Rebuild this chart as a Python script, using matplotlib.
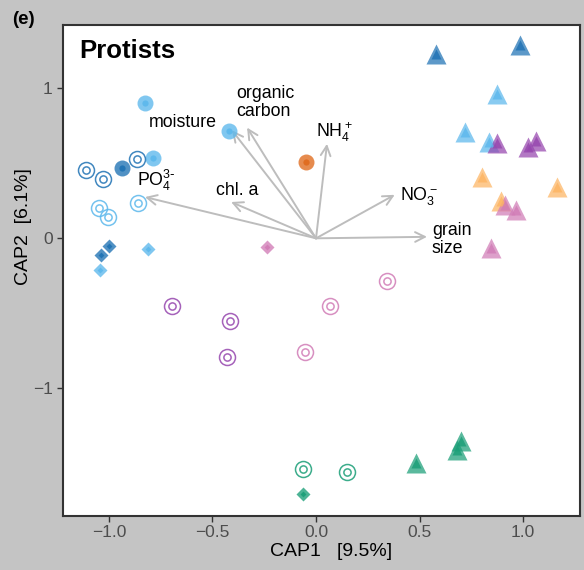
import matplotlib
matplotlib.use("Agg")
import matplotlib.pyplot as plt
import numpy as np

plt.rcParams['font.family'] = ['Liberation Sans', 'DejaVu Sans']
plt.rcParams['mathtext.default'] = 'regular'

# ---- data ----
palette = {
    'darkblue': '#1f72b4',
    'lightblue': '#5cb8ec',
    'orange': '#e06a1c',
    'lightorange': '#fdb462',
    'purple': '#9646ae',
    'pink': '#d17cb6',
    'green': '#1a9e77',
}

# filled circles
circ_x = [-0.826, -0.787, -0.420, -0.937, -0.048]
circ_y = [0.902, 0.535, 0.715, 0.469, 0.509]
circ_c = ['lightblue', 'lightblue', 'lightblue', 'darkblue', 'orange']

# double (ring) circles
ring_x = [-1.111, -1.029, -0.865, -1.048, -1.005, -0.860,
          -0.696, -0.415, -0.430, 0.068, 0.343, -0.053, -0.063, 0.150]
ring_y = [0.455, 0.395, 0.529, 0.202, 0.142, 0.235,
          -0.451, -0.551, -0.791, -0.451, -0.285, -0.758, -1.538, -1.558]
ring_c = ['darkblue', 'darkblue', 'darkblue', 'lightblue', 'lightblue', 'lightblue',
          'purple', 'purple', 'purple', 'pink', 'pink', 'pink', 'green', 'green']

# diamonds
diam_x = [-1.000, -1.039, -1.043, -0.812, -0.237, -0.063]
diam_y = [-0.051, -0.111, -0.211, -0.071, -0.058, -1.705]
diam_c = ['darkblue', 'darkblue', 'lightblue', 'lightblue', 'pink', 'green']

# triangles
tri_x = [0.580, 0.986, 0.874, 0.720, 0.836, 0.874, 1.024, 1.063,
         0.802, 1.164, 0.894, 0.913, 0.966, 0.845, 0.483, 0.681, 0.700]
tri_y = [1.229, 1.289, 0.962, 0.709, 0.642, 0.635, 0.609, 0.649,
         0.409, 0.342, 0.249, 0.222, 0.189, -0.065, -1.498, -1.411, -1.351]
tri_c = ['darkblue', 'darkblue', 'lightblue', 'lightblue', 'lightblue',
         'purple', 'purple', 'purple', 'lightorange', 'lightorange', 'lightorange',
         'pink', 'pink', 'pink', 'green', 'green', 'green']

# environmental vectors
vec_names = ['grain size', 'NO3', 'NH4', 'organic carbon', 'moisture', 'chl. a', 'PO4']
vec_x = [0.536, 0.380, 0.053, -0.333, -0.406, -0.410, -0.826]
vec_y = [0.010, 0.290, 0.630, 0.738, 0.720, 0.242, 0.275]

vec_labels = ['grain\nsize', r'NO$_3^-$', r'NH$_4^+$', 'organic\ncarbon', 'moisture',
              'chl. a', r'PO$_4^{3\text{-}}$']
lab_x = [0.560, 0.495, 0.090, -0.385, -0.643, -0.380, -0.770]
lab_y = [-0.010, 0.280, 0.705, 0.905, 0.772, 0.320, 0.385]
lab_ha = ['left', 'center', 'center', 'left', 'center', 'center', 'center']

xticks = [-1.0, -0.5, 0.0, 0.5, 1.0]
yticks = [-1, 0, 1]

# ---- figure ----
fig = plt.figure(figsize=(5.84, 5.70), dpi=100, facecolor='#c4c4c4')
ax = fig.add_axes([63/584, 1-516/570, (580-63)/584, (516-25)/570])
ax.set_facecolor('white')
ax.set_xlim(-1.222, 1.275)
ax.set_ylim(-1.851, 1.422)

grey = '#bdbdbd'
for vx, vy in zip(vec_x, vec_y):
    ax.annotate('', xy=(vx, vy), xytext=(0, 0),
                arrowprops=dict(arrowstyle='->,head_length=0.7,head_width=0.35',
                                color=grey, lw=1.4, shrinkA=0, shrinkB=0), zorder=2)
for t, lx, ly, ha in zip(vec_labels, lab_x, lab_y, lab_ha):
    ax.text(lx, ly, t, ha=ha, va='center', fontsize=12.8, color='black',
            linespacing=1.08, zorder=3)

al = 0.78
# filled circles
for x, y, c in zip(circ_x, circ_y, circ_c):
    col = palette[c]
    ax.plot(x, y, 'o', ms=11.5, mfc=col, mec='none', alpha=al, zorder=4)
    ax.plot(x, y, 'o', ms=4.5, mfc=col, mec='none', alpha=0.9, zorder=5)
# ring circles
for x, y, c in zip(ring_x, ring_y, ring_c):
    col = palette[c]
    ax.plot(x, y, 'o', ms=11.5, mfc='none', mec=col, mew=1.1, alpha=0.85, zorder=4)
    ax.plot(x, y, 'o', ms=5.2, mfc='none', mec=col, mew=1.1, alpha=0.85, zorder=5)
# diamonds
for x, y, c in zip(diam_x, diam_y, diam_c):
    col = palette[c]
    ax.plot(x, y, 'D', ms=7.3, mfc=col, mec='none', alpha=al, zorder=4)
    ax.plot(x, y, 'D', ms=3.0, mfc=col, mec='none', alpha=0.9, zorder=5)
# triangles
for x, y, c in zip(tri_x, tri_y, tri_c):
    col = palette[c]
    ax.plot(x, y, '^', ms=14, mfc=col, mec='none', alpha=0.72, zorder=4)
    ax.plot(x, y, '^', ms=7, mfc=col, mec='none', alpha=0.8, zorder=5)

ax.set_xticks(xticks)
ax.set_xticklabels([f'{v:.1f}'.replace('-', '\u2212') for v in xticks])
ax.set_yticks(yticks)
ax.set_yticklabels([f'{v:d}'.replace('-', '\u2212') for v in yticks])
ax.tick_params(direction='out', length=4, width=1, color='#333333',
               labelcolor='#4d4d4d', labelsize=12.5)
ax.tick_params(axis='x', pad=2.5)
for s in ax.spines.values():
    s.set_color('#333333')
    s.set_linewidth(1.5)

ax.text(0.031, 0.947, 'Protists', transform=ax.transAxes, ha='left', va='center',
        fontsize=18.5, fontweight='bold')
fig.text(23/584, 1-20/570, '(e)', ha='center', va='center', fontsize=13.5, fontweight='bold')
fig.text(331/584, 1-552/570, 'CAP1   [9.5%]', ha='center', va='center', fontsize=14)
fig.text(24/584, 1-227/570, 'CAP2  [6.1%]', ha='center', va='center', fontsize=14,
         rotation=90)

fig.savefig('out.png', dpi=100, facecolor=fig.get_facecolor())
